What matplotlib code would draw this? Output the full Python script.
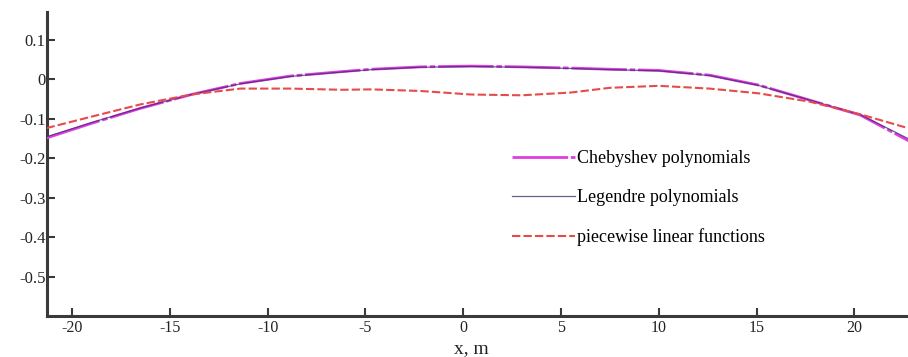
import numpy as np
import matplotlib.pyplot as plt

# ------------------------------------------------------------
# data
# ------------------------------------------------------------
x_pts = [-21.3, -19.0, -16.5, -13.9, -11.4, -8.8, -6.2, -4.7, -2.2, 0.4,
         3.0, 5.5, 7.5, 10.0, 12.6, 15.1, 17.7, 20.3, 22.8]

chebyshev = [-0.149, -0.112, -0.074, -0.039, -0.011, 0.008, 0.019, 0.025, 0.031, 0.033,
             0.031, 0.028, 0.025, 0.022, 0.010, -0.015, -0.053, -0.091, -0.157]

legendre = [-0.146, -0.110, -0.073, -0.039, -0.012, 0.007, 0.018, 0.024, 0.030, 0.032,
            0.030, 0.027, 0.024, 0.021, 0.009, -0.016, -0.053, -0.090, -0.152]

piecewise = [-0.124, -0.095, -0.064, -0.039, -0.024, -0.024, -0.027, -0.026, -0.030, -0.039,
             -0.041, -0.034, -0.022, -0.017, -0.024, -0.036, -0.057, -0.089, -0.125]

labels = ["Chebyshev polynomials", "Legendre polynomials", "piecewise linear functions"]
x_ticks = [-20, -15, -10, -5, 0, 5, 10, 15, 20]
y_ticks = [0.1, 0, -0.1, -0.2, -0.3, -0.4, -0.5]
y_tick_labels = ["0.1", "0", "-0.1", "-0.2", "-0.3", "-0.4", "-0.5"]

# ------------------------------------------------------------
# style
# ------------------------------------------------------------
plt.rcParams["font.family"] = ["Liberation Serif", "DejaVu Serif"]
plt.rcParams["axes.unicode_minus"] = False

fig = plt.figure(figsize=(9.08, 3.57), dpi=100)
ax = fig.add_axes([47 / 908, 41 / 357, 861 / 908, 304 / 357])

l_cheb, = ax.plot(x_pts, chebyshev, color="#e03ee0", lw=2.0, ls=(0, (20, 1, 2, 1)),
                  zorder=3)
l_leg, = ax.plot(x_pts, legendre, color="#3a2a6a", lw=0.9, alpha=0.75, zorder=4)
l_pw, = ax.plot(x_pts, piecewise, color="#e84a4a", lw=1.5, ls=(0, (4, 1.5)), zorder=5)

ax.set_xlim(-21.28, 22.74)
ax.set_ylim(-0.6, 0.17)
ax.set_xticks(x_ticks)
ax.set_xticklabels([str(v) for v in x_ticks])
ax.set_yticks(y_ticks)
ax.set_yticklabels(y_tick_labels)

ax.spines[["top", "right"]].set_visible(False)
for s in ["left", "bottom"]:
    ax.spines[s].set_linewidth(2.2)
    ax.spines[s].set_color("#3a3a3a")
ax.tick_params(direction="in", length=6, width=1.5, color="#3a3a3a",
               labelsize=12, labelcolor="#222222")
ax.tick_params(axis="x", pad=3, labelsize=11.5)
ax.tick_params(axis="y", pad=1)

fig.text(471 / 908, 1 - 353 / 357, "x, m", fontsize=14, color="#222222",
         ha="center", va="baseline")

ax.legend([l_cheb, l_leg, l_pw], labels,
          loc="upper left", bbox_to_anchor=(512 / 908, 1 - 150 / 357),
          bbox_transform=fig.transFigure, frameon=False, fontsize=13,
          handlelength=3.5, handletextpad=0.12, labelspacing=1.22,
          borderpad=0, borderaxespad=0)

fig.savefig("out.png", dpi=100)
